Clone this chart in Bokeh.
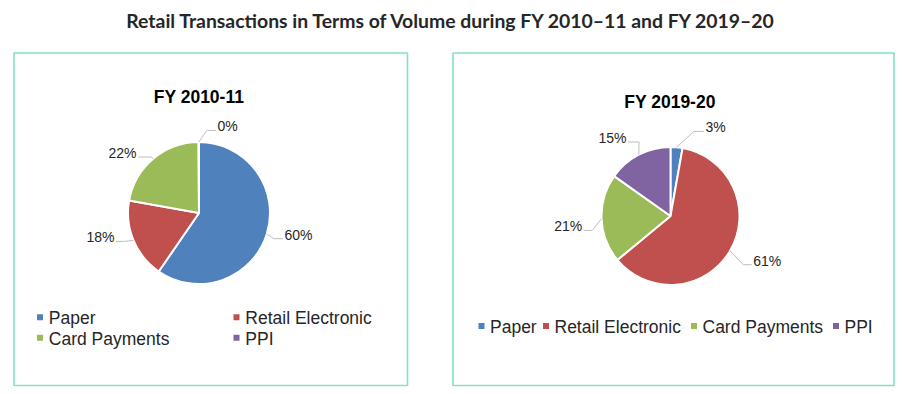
import math
from bokeh.plotting import figure
from bokeh.models import Range1d
from bokeh.embed import file_html
from bokeh.resources import INLINE
from bokeh.core.properties import value

# ---------------- data ----------------
categories = ["Paper", "Retail Electronic", "Card Payments", "PPI"]
share_2010_11 = [59.6, 18.2, 22.1, 0.1]
share_2019_20 = [2.8, 61.2, 20.8, 15.2]
pie_titles = ["FY 2010-11", "FY 2019-20"]
main_title = "Retail Transactions in Terms of Volume during FY 2010\u201311 and FY 2019\u201320"
colors = ["#4f81bd", "#c0504d", "#9bbb59", "#8064a2"]

# ---------------- layout (image pixel space) ----------------
W, H = 904, 394
def X(px):
    return px
def Y(py):
    return H - py

# correction for where the renderer puts the text baseline
SH_TITLE, SH_PIE_TITLE, SH_LABEL, SH_LEGEND = 6.5, 6.0, 5.0, 5.0

p = figure(width=W, height=H, output_backend="svg", toolbar_location=None,
           x_range=Range1d(0, W), y_range=Range1d(0, H),
           min_border=0, x_axis_location=None, y_axis_location=None)
p.outline_line_color = None
p.grid.visible = False
p.background_fill_color = "white"
p.border_fill_color = "white"

BORDER = "#86dfc0"
LABEL_FONT = value("Liberation Sans")
TXT = "#262626"

# main title
p.text(x=[X(451.5)], y=[Y(26 - SH_TITLE)], text=[main_title], text_align="center",
       text_baseline="alphabetic", text_font=value("Lato"), text_font_style="bold",
       text_font_size="19.4px", text_color="#262626")

panels = [
    dict(values=share_2010_11, title=pie_titles[0], box=(13.5, 52.5, 407, 385),
         cx=198.5, cy=212.5, r=71, title_xy=(198.5, 102.7),
         # label anchor offsets from pie centre (dx, dy baseline), side, elbow length
         labels=[(85.5, 26.5, 1, 9), (-84.5, 29.2, -1, 8.5), (-62.5, -55.2, -1, 13), (18.5, -81.8, 1, 9)],
         legend=dict(cols=2, xs=[39.5, 236, 39.5, 236], ys=[322.7, 322.7, 343.3, 343.3],
                     text_dx=8.8)),
    dict(values=share_2019_20, title=pie_titles[1], box=(452.5, 52.5, 893.5, 385),
         cx=670, cy=215.5, r=69, title_xy=(669.5, 107.3),
         labels=[(35, -83.8, 1, 10), (82.7, 49.5, 1, 8.5), (-88.3, 15.2, -1, 8.5), (-44, -73.2, -1, 11)],
         legend=dict(cols=4, xs=[481, 545.5, 693.5, 835.5], ys=[331.5] * 4, text_dx=8.5)),
]

for pan in panels:
    x0, y0, x1, y1 = pan["box"]
    p.quad(left=[X(x0)], right=[X(x1)], top=[Y(y0)], bottom=[Y(y1)],
           fill_color=None, line_color=BORDER, line_width=1.6)

    tx, ty = pan["title_xy"]
    p.text(x=[X(tx)], y=[Y(ty - SH_PIE_TITLE)], text=[pan["title"]], text_align="center",
           text_baseline="alphabetic", text_font=LABEL_FONT, text_font_style="bold",
           text_font_size="17.5px", text_color="#000000")

    vals = pan["values"]
    tot = sum(vals)
    cx, cy, r = pan["cx"], pan["cy"], pan["r"]
    cum = 0.0
    starts, ends, mids = [], [], []
    for v in vals:
        c0 = cum / tot
        cum += v
        c1 = cum / tot
        starts.append(math.pi / 2 - 2 * math.pi * c1)
        ends.append(math.pi / 2 - 2 * math.pi * c0)
        mids.append((c0 + c1) / 2)
    p.wedge(x=[X(cx)] * 4, y=[Y(cy)] * 4, radius=r, start_angle=starts, end_angle=ends,
            direction="anticlock", fill_color=colors, line_color="white", line_width=2)

    # data labels and leader lines
    for v, m, (dx, dy, side, elb) in zip(vals, mids, pan["labels"]):
        ang = 2 * math.pi * m
        ex = cx + r * math.sin(ang)
        ey = cy - r * math.cos(ang)
        lx, ly = cx + dx, cy + dy
        end_x = lx - side * 1.5
        elbow_x = end_x - side * elb
        line_y = ly - 0.8
        p.line(x=[X(ex), X(elbow_x), X(end_x)], y=[Y(ey), Y(line_y), Y(line_y)],
               line_color="#bfbfbf", line_width=1)
        p.text(x=[X(lx)], y=[Y(ly - SH_LABEL)], text=[f"{round(v)}%"],
               text_align="left" if side > 0 else "right", text_baseline="alphabetic",
               text_font=LABEL_FONT, text_font_size="14px", text_color=TXT)

    # legend
    lg = pan["legend"]
    for cat, col, lxp, lyp in zip(categories, colors, lg["xs"], lg["ys"]):
        p.rect(x=[X(lxp)], y=[Y(lyp - 6)], width=6, height=6, fill_color=col, line_color=None)
        p.text(x=[X(lxp + lg["text_dx"])], y=[Y(lyp - SH_LEGEND)], text=[cat], text_align="left",
               text_baseline="alphabetic", text_font=LABEL_FONT, text_font_size="17.5px",
               text_color=TXT)

open("out.html", "w").write(file_html(p, INLINE))
